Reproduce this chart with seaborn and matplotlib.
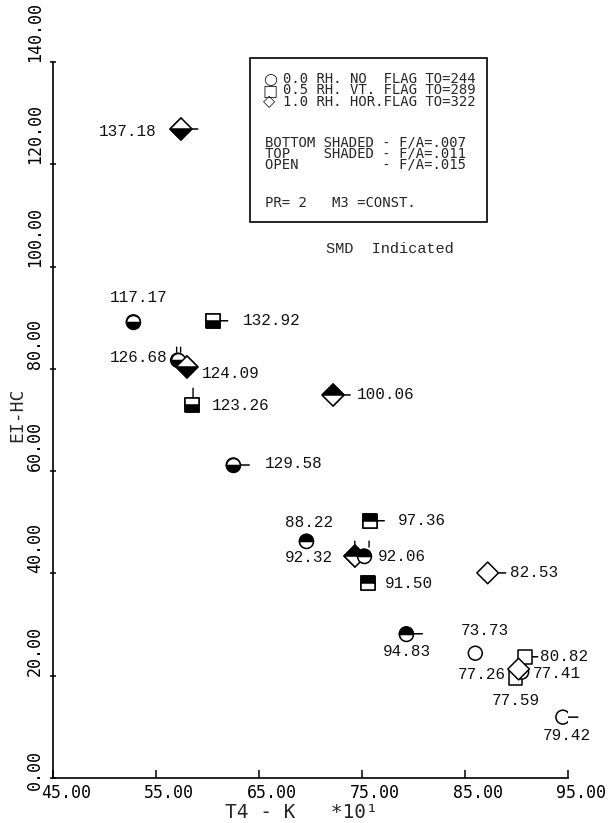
import matplotlib
matplotlib.use("Agg")
import matplotlib.pyplot as plt
import seaborn as sns
import pandas as pd
from matplotlib.patches import Rectangle
from matplotlib.transforms import ScaledTranslation, offset_copy

# ---------------- data ----------------
smd_labels = ["137.18", "117.17", "132.92", "126.68", "124.09", "123.26", "100.06",
              "129.58", "97.36", "88.22", "92.32", "92.06", "91.50", "94.83",
              "82.53", "73.73", "80.82", "77.26", "77.41", "77.59", "79.42"]
t4_k = [57.4, 52.8, 60.5, 57.1, 58.0, 58.5, 72.2, 62.5, 75.8, 69.6, 74.3, 75.2,
        75.6, 79.3, 87.2, 86.0, 90.8, 89.9, 90.5, 90.2, 94.5]
ei_hc = [126.9, 89.2, 89.4, 81.7, 80.4, 72.9, 74.9, 61.2, 50.3, 46.3, 43.4, 43.4,
         38.1, 28.2, 40.1, 24.4, 23.7, 19.6, 20.7, 21.3, 11.9]
flag_type = ["diamond", "circle", "square", "circle", "diamond", "square", "diamond",
             "circle", "square", "circle", "diamond", "circle", "square", "circle",
             "diamond", "circle", "square", "square", "circle", "diamond", "circle"]
shading = ["bottom", "bottom", "bottom", "bottom", "bottom", "bottom", "top",
           "bottom", "top", "top", "top", "top", "top", "top",
           "open", "open", "open", "open", "open", "open", "open"]

x_ticks = [45, 55, 65, 75, 85, 95]
x_tick_labels = ["45.00", "55.00", "65.00", "75.00", "85.00", "95.00"]
y_ticks = [0, 20, 40, 60, 80, 100, 120, 140]
y_tick_labels = ["0.00", "20.00", "40.00", "60.00", "80.00", "100.00", "120.00", "140.00"]

legend_symbols = ["\u25CB", "\u25A1", "\u25C7"]
legend_block1 = ["0.0 RH. NO  FLAG TO=244",
                 "0.5 RH. VT. FLAG TO=289",
                 "1.0 RH. HOR.FLAG TO=322"]
legend_block2 = ["BOTTOM SHADED - F/A=.007",
                 "TOP    SHADED - F/A=.011",
                 "OPEN          - F/A=.015"]
legend_block3 = "PR= 2   M3 =CONST."
note_text = "SMD  Indicated"
x_title = "T4 - K   *10\u00B9"
y_title = "EI-HC"

# ---------------- layout (pixel offsets of labels / flags) ----------------
label_layout = [  # (dx, dy screen-down, ha)
    (-24, 3, "right"), (5, -24, "center"), (30, 0, "left"), (-10, -3, "right"),
    (15, 7, "left"), (20, 0, "left"), (24, 0, "left"), (32, -2, "left"),
    (28, 0, "left"), (3, -19, "center"), (-22, 1, "right"), (14, 0, "left"),
    (17, 0, "left"), (1, 18, "center"), (22, 0, "left"), (10, -23, "center"),
    (15, 0, "left"), (-10, -3, "right"), (11, 1, "left"), (-3, 31, "center"),
    (4, 18, "center")]
hflag_len = {0: 17, 2: 15, 6: 17, 7: 16, 8: 14, 13: 16, 14: 18, 16: 13, 20: 15}
vstubs = [  # (point index, dx, y0, y1) in screen pixels relative to point
    (5, 1, -7, -17), (3, -1, -8, -13), (3, 3, -8, -13), (10, 0, -9, -15), (11, 5, -9, -15)]

W, H, DPI = 611, 823, 100
sns.set_style("ticks")
plt.rcParams["font.family"] = ["DejaVu Sans Mono", "DejaVu Sans"]

fig = plt.figure(figsize=(W / DPI, H / DPI), dpi=DPI)
L, R, B, T = 53, 568, 778, 62
ax = fig.add_axes([L / W, (H - B) / H, (R - L) / W, (B - T) / H])
ax.set_xlim(45, 95)
ax.set_ylim(0, 140)

df = pd.DataFrame({"t4": t4_k, "ei": ei_hc, "kind": flag_type, "shade": shading})
marker_map = {"circle": "o", "square": "s", "diamond": "D"}
ms_map = {"circle": 10, "square": 10, "diamond": 11}

# flag lines behind markers
for i, ln in hflag_len.items():
    ax.annotate("", xy=(t4_k[i], ei_hc[i]), xycoords="data",
                xytext=(ln, 0), textcoords="offset pixels",
                arrowprops=dict(arrowstyle="-", lw=1.1, color="black",
                                shrinkA=0, shrinkB=0), zorder=1)

sns.scatterplot(data=df, x="t4", y="ei", style="kind", markers=marker_map,
                size="kind", sizes={k: v ** 2 for k, v in ms_map.items()},
                color="white", edgecolor="black", linewidth=1.1,
                legend=False, ax=ax, zorder=3)

for i in range(len(t4_k)):
    if shading[i] == "open":
        continue
    k = flag_type[i]
    ax.plot([t4_k[i]], [ei_hc[i]], ls="none", marker=marker_map[k], ms=ms_map[k],
            fillstyle=shading[i], mfc="black", mfcalt="white", mec="black",
            mew=1.1, zorder=4)

for (i, dx, y0, y1) in vstubs:
    tr = offset_copy(ax.transData, fig=fig, x=dx, y=-y0, units="dots")
    ax.annotate("", xy=(t4_k[i], ei_hc[i]), xycoords=tr,
                xytext=(0, y0 - y1), textcoords="offset pixels",
                arrowprops=dict(arrowstyle="-", lw=1.0, color="black",
                                shrinkA=0, shrinkB=0), zorder=5)

for i, lab in enumerate(smd_labels):
    dx, dy, ha = label_layout[i]
    ax.annotate(lab, xy=(t4_k[i], ei_hc[i]), xytext=(dx, -dy),
                textcoords="offset pixels", ha=ha, va="center",
                fontsize=11.5, family=["Liberation Mono", "DejaVu Sans Mono"],
                color="#111111", zorder=6)

# axes styling
sns.despine(ax=ax)
for s in ("left", "bottom"):
    ax.spines[s].set_linewidth(1.2)
    ax.spines[s].set_color("black")
ax.set_xticks(x_ticks)
ax.set_xticklabels(x_tick_labels, fontsize=12, ha="left")
ax.set_yticks(y_ticks)
ax.set_yticklabels(y_tick_labels, fontsize=12, rotation=90,
                   rotation_mode="anchor", ha="left", va="bottom")
ax.tick_params(axis="x", direction="in", length=6, width=1.1, pad=4, colors="black")
ax.tick_params(axis="y", direction="inout", length=5, width=1.1, pad=4, colors="black")
for lbl in ax.get_xticklabels():
    lbl.set_transform(lbl.get_transform() + ScaledTranslation(-12 / DPI, 0, fig.dpi_scale_trans))
ylbls = ax.get_yticklabels()
ylbls[0].set_transform(ylbls[0].get_transform() + ScaledTranslation(0, -12 / DPI, fig.dpi_scale_trans))
ax.set_xlabel("")
ax.set_ylabel("")

fig.text(301 / W, (H - 812) / H, x_title, ha="center", va="center", fontsize=14)
fig.text(17 / W, (H - 415) / H, y_title, ha="center", va="center", fontsize=13, rotation=90)

# legend box
bx0, by0, bx1, by1 = 250, 58, 487, 222
fig.add_artist(Rectangle((bx0 / W, (H - by1) / H), (bx1 - bx0) / W, (by1 - by0) / H,
                         transform=fig.transFigure, fill=False, lw=1.2, ec="black"))
fig.text(263 / W, (H - 90.5) / H, "\n".join(legend_symbols), ha="left", va="center",
         fontsize=11.5, linespacing=0.66, family=["DejaVu Sans", "DejaVu Sans Mono"])
fig.text(283 / W, (H - 90.5) / H, "\n".join(legend_block1), ha="left", va="center",
         fontsize=10, linespacing=0.76)
fig.text(265 / W, (H - 153.5) / H, "\n".join(legend_block2), ha="left", va="center",
         fontsize=10, linespacing=0.76)
fig.text(265 / W, (H - 203) / H, legend_block3, ha="left", va="center", fontsize=10)

fig.text(390 / W, (H - 249) / H, note_text, ha="center", va="center",
         fontsize=11, family=["Liberation Mono", "DejaVu Sans Mono"])

fig.savefig("out.png", dpi=DPI)
